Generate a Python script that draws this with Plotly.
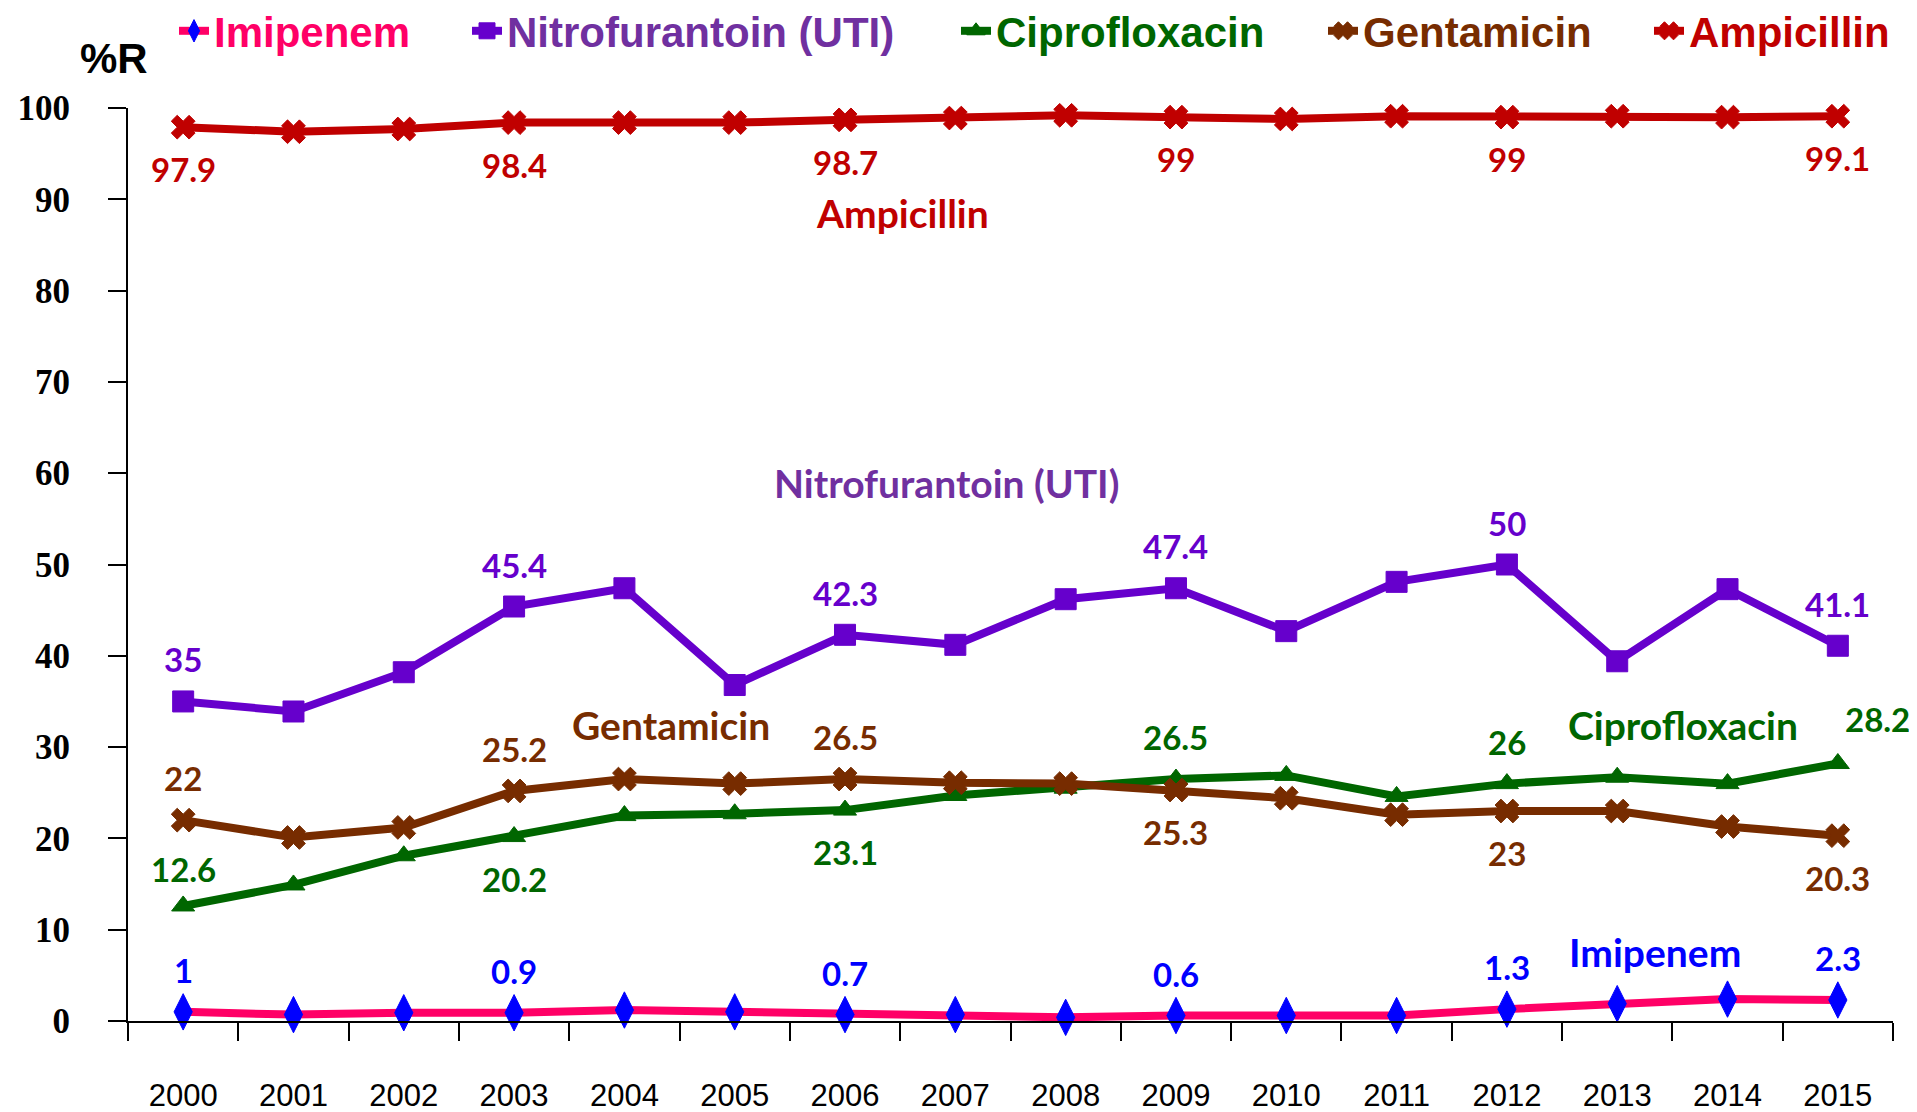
import plotly.graph_objects as go

years = [str(y) for y in range(2000, 2016)]

imipenem = [1, 0.7, 0.9, 0.9, 1.2, 1.0, 0.7, 0.7, 0.4, 0.6, 0.6, 0.6, 1.3, 1.9, 2.4, 2.3]
nitrofurantoin = [35, 33.9, 38.2, 45.4, 47.4, 36.8, 42.3, 41.2, 46.2, 47.4, 42.7, 48.1, 50, 39.4, 47.3, 41.1]
ciprofloxacin = [12.6, 14.9, 18.1, 20.2, 22.5, 22.7, 23.1, 24.7, 25.5, 26.5, 26.9, 24.6, 26, 26.7, 26.0, 28.2]
gentamicin = [22, 20.1, 21.2, 25.2, 26.5, 26.0, 26.5, 26.1, 26.0, 25.3, 24.4, 22.6, 23, 23.0, 21.3, 20.3]
ampicillin = [97.9, 97.4, 97.7, 98.4, 98.4, 98.4, 98.7, 98.9, 99.2, 99, 98.8, 99.1, 99, 99.1, 99.0, 99.1]

label_idx = [0, 3, 6, 9, 12, 15]

series = [
    dict(name="Imipenem", y=imipenem, line="#FF0066", marker="#0000FF", symbol="diamond-tall", msize=26,
         legtext="#FF0066", labcol="#0000FF", pos=[1, 1, 1, 1, 1, 1], legx=174, legend="legend"),
    dict(name="Nitrofurantoin (UTI)", y=nitrofurantoin, line="#6600CC", marker="#6600CC", symbol="square", msize=21,
         legtext="#7030A0", labcol="#6600CC", pos=[1, 1, 1, 1, 1, 1], legx=467, legend="legend2"),
    dict(name="Ciprofloxacin", y=ciprofloxacin, line="#006600", marker="#006600", symbol="triangle-up", msize=20,
         legtext="#006600", labcol="#006600", pos=[1, -1, -1, 1, 1, 1], legx=956, legend="legend3"),
    dict(name="Gentamicin", y=gentamicin, line="#772C00", marker="#772C00", symbol="x", msize=21,
         legtext="#772C00", labcol="#772C00", pos=[1, 1, 1, -1, -1, -1], legx=1323, legend="legend4"),
    dict(name="Ampicillin", y=ampicillin, line="#C00000", marker="#C00000", symbol="x", msize=21,
         legtext="#C00000", labcol="#C00000", pos=[-1, -1, -1, -1, -1, -1], legx=1649, legend="legend5"),
]

series_labels = [
    ("Ampicillin", 6.52, 88.5, "#C00000"),
    ("Nitrofurantoin (UTI)", 6.92, 58.9, "#7030A0"),
    ("Gentamicin", 4.42, 32.4, "#772C00"),
    ("Ciprofloxacin", 13.6, 32.4, "#006600"),
    ("Imipenem", 13.34, 7.55, "#0000FF"),
]

LABEL_FONT = "Lato, Carlito, 'Open Sans', sans-serif"

fig = go.Figure()
annotations = []
OFF = 8  # page body margin
W, H = 1917 - OFF, 1112 - OFF
ML, MR, MT, MB = 128 - OFF, 24, 108 - OFF, 91
PW, PH = W - ML - MR, H - MT - MB

for s in series:
    fig.add_trace(go.Scatter(
        x=years, y=s["y"], name=s["name"], mode="lines+markers",
        line=dict(color=s["line"], width=8),
        marker=dict(color=s["marker"], symbol=s["symbol"], size=s["msize"],
                    line=dict(color=s["marker"], width=1)),
        cliponaxis=False, legend=s["legend"],
    ))
    for k, i in enumerate(label_idx):
        v = s["y"][i]
        xshift = 0
        yshift = 42 * s["pos"][k]
        if s["name"] == "Ciprofloxacin" and i == 0:
            yshift = 37
        if s["name"] == "Ciprofloxacin" and i == 15:
            xshift = 40
            yshift = 45
        annotations.append(dict(
            x=i, y=v, xref="x", yref="y", text=f"{v:g}", showarrow=False,
            xshift=xshift, yshift=yshift, xanchor="center", yanchor="middle",
            font=dict(family=LABEL_FONT, size=33, color=s["labcol"], weight="bold"),
        ))

for text, xi, yv, col in series_labels:
    annotations.append(dict(
        x=xi, y=yv, xref="x", yref="y", text=text, showarrow=False,
        xanchor="center", yanchor="middle",
        font=dict(family=LABEL_FONT, size=39, color=col, weight="bold"),
    ))

annotations.append(dict(
    x=(114 - 128) / PW, y=(1021 - 59) / PH, xref="paper", yref="paper", text="%R", showarrow=False,
    xanchor="center", yanchor="middle",
    font=dict(family="Liberation Sans, Arial, sans-serif", size=42, color="black", weight="bold"),
))

LEG_TOP = -3  # page pixel of the legend box top
layout_legends = {}
for s in series:
    layout_legends[s["legend"]] = dict(
        orientation="h", xref="container", yref="paper",
        x=(s["legx"] - OFF) / W, y=(1021 - LEG_TOP) / PH, xanchor="left", yanchor="top",
        bgcolor="rgba(0,0,0,0)",
        font=dict(family="Liberation Sans, Arial, sans-serif", size=42, color=s["legtext"], weight="bold"),
    )

fig.update_layout(
    width=W, height=H,
    margin=dict(l=ML, r=MR, t=MT, b=MB, autoexpand=False),
    plot_bgcolor="white", paper_bgcolor="white",
    showlegend=True,
    annotations=annotations,
    xaxis=dict(
        type="category", range=[-0.5, 15.5], tickson="boundaries", automargin=False,
        ticks="outside", ticklen=18, tickcolor="black", tickwidth=2,
        showline=True, linecolor="black", linewidth=2, showgrid=False,
        ticklabelstandoff=46,
        tickfont=dict(family="Liberation Sans, Arial, sans-serif", size=31, color="black"),
    ),
    yaxis=dict(
        range=[0, 100], dtick=10, tick0=0, automargin=False,
        ticks="outside", ticklen=18, tickcolor="black", tickwidth=2,
        showline=True, linecolor="black", linewidth=2, showgrid=False, zeroline=False,
        ticklabelstandoff=31,
        tickfont=dict(family="Liberation Serif, 'Times New Roman', serif", size=35, color="black", weight="bold"),
    ),
    **layout_legends,
)

fig.write_html("out.html")
